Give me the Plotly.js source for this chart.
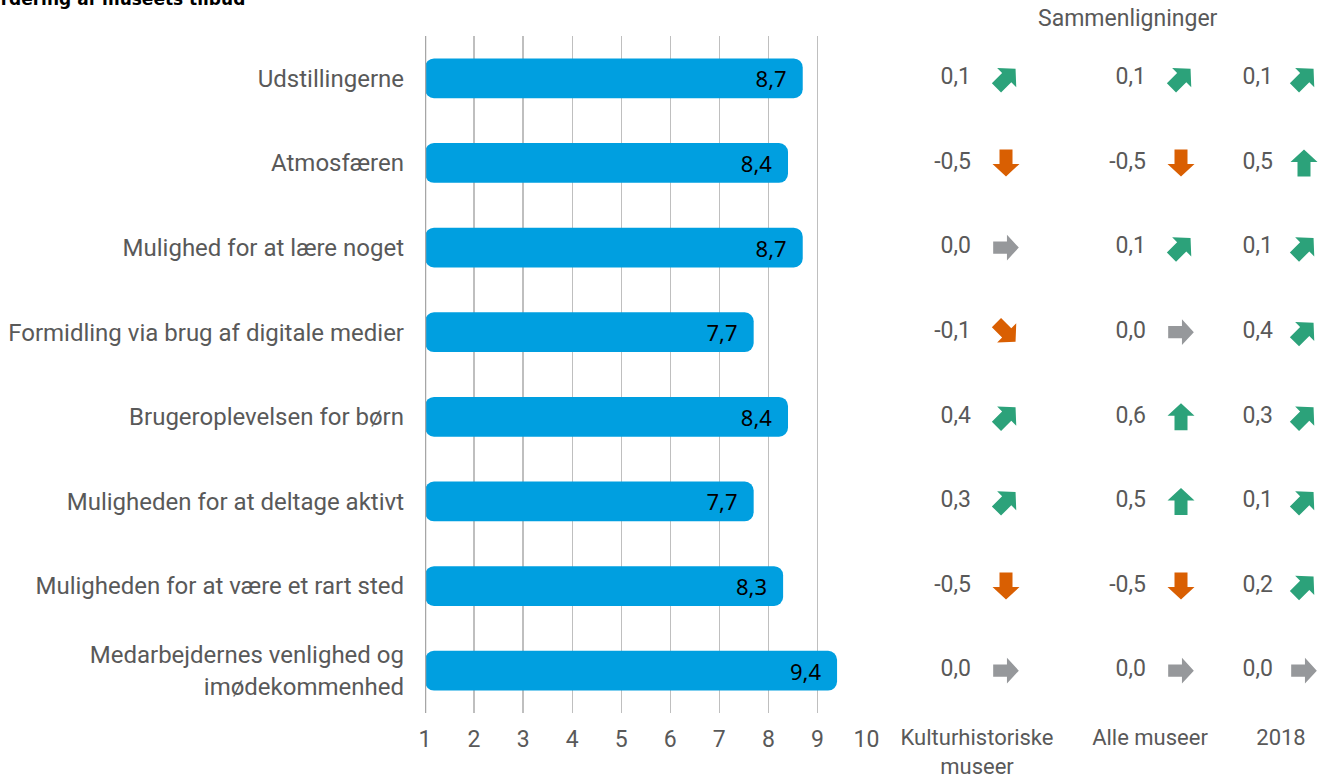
<!DOCTYPE html>
<html>
<head>
<meta charset="utf-8">
<script src="https://cdn.plot.ly/plotly-3.0.1.min.js"></script>
<style>html,body{margin:0;padding:0;background:#fff;}#chart{width:1335px;height:778px;}</style>
</head>
<body>
<div id="chart"></div>
<script>
const categories = [
  "Udstillingerne",
  "Atmosfæren",
  "Mulighed for at lære noget",
  "Formidling via brug af digitale medier",
  "Brugeroplevelsen for børn",
  "Muligheden for at deltage aktivt",
  "Muligheden for at være et rart sted",
  "Medarbejdernes venlighed og<br>imødekommenhed"
];
const scores = [8.7, 8.4, 8.7, 7.7, 8.4, 7.7, 8.3, 9.4];
const vsKulturhistoriske = [0.1, -0.5, 0.0, -0.1, 0.4, 0.3, -0.5, 0.0];
const vsAlleMuseer = [0.1, -0.5, 0.1, 0.0, 0.6, 0.5, -0.5, 0.0];
const vs2018 = [0.1, 0.5, 0.1, 0.4, 0.3, 0.1, 0.2, 0.0];
const compLabels = ["Kulturhistoriske<br>museer", "Alle museer", "2018"];
const xTicks = [1,2,3,4,5,6,7,8,9,10];

const fmt = v => v.toFixed(1).replace('.', ',');
const GREEN = '#2ca27a', ORANGE = '#d95f02', GREY = '#96989b';
// arrow direction on screen: [dx, dyUp]
function dirOf(v){
  const s = Math.SQRT1_2;
  if (v >= 0.45) return [0, 1];
  if (v > 0.05) return [s, s];
  if (v > -0.05) return [1, 0];
  if (v > -0.45) return [s, -s];
  return [0, -1];
}
function colorOf(v){ return v > 0.05 ? GREEN : (v < -0.05 ? ORANGE : GREY); }

// block-arrow glyph (pointing up, pixel units, y up, centred)
const ARROW_GLYPH = [[-6.5,-13.5],[6.5,-13.5],[6.5,1],[13.5,1],[0,13.5],[-13.5,1],[-6.5,1]];
function arrowPath(dx, dy, k){
  return ARROW_GLYPH.map(([x, y], i) => {
    const px = (x * dy + y * dx) * k;
    const py = (-x * dx + y * dy) * k;
    return (i ? 'L' : 'M') + px.toFixed(2) + ',' + py.toFixed(2);
  }).join('') + 'Z';
}

const FONT = 'Roboto, sans-serif';
const TXT = '#595959';
const traces = [{
  type: 'bar', orientation: 'h',
  y: categories, x: scores.map(s => s - 1), base: 1,
  marker: {color: '#009fe0', cornerradius: 9},
  width: 0.47,
  text: scores.map(v => fmt(v) + '&nbsp;&nbsp;'), textposition: 'inside', insidetextanchor: 'end',
  textfont: {family: '"Noto Sans", sans-serif', size: 22, color: '#000'},
  hoverinfo: 'skip', xaxis: 'x', yaxis: 'y'
}];

const cols = [
  {vals: vsKulturhistoriske, textX: 971, arrowX: 1006, label: 977},
  {vals: vsAlleMuseer, textX: 1146, arrowX: 1181, label: 1150},
  {vals: vs2018, textX: 1273, arrowX: 1304, label: 1281}
];
const arrowShapes = [];
cols.forEach(c => {
  traces.push({
    type: 'scatter', mode: 'text', x: c.vals.map(() => c.textX), y: categories,
    text: c.vals.map(fmt), textposition: 'middle left',
    textfont: {family: FONT, size: 23, color: TXT},
    xaxis: 'x2', yaxis: 'y', hoverinfo: 'skip', showlegend: false
  });
  c.vals.forEach((v, i) => {
    const [dx, dy] = dirOf(v);
    const horiz = dy === 0;
    arrowShapes.push({
      type: 'path', xref: 'x2', yref: 'y',
      xsizemode: 'pixel', ysizemode: 'pixel',
      xanchor: c.arrowX, yanchor: categories[i],
      path: arrowPath(dx, dy, horiz ? 0.95 : 1),
      fillcolor: colorOf(v), line: {width: 0}, layer: 'above'
    });
  });
});

const W = 1335, L = 425;
const pw = W - L;
const layout = {
  width: 1335, height: 778,
  margin: {l: L, r: 0, t: 36, b: 65},
  paper_bgcolor: '#fff', plot_bgcolor: 'rgba(0,0,0,0)',
  showlegend: false,
  font: {family: FONT, size: 24, color: TXT},
  xaxis: {
    domain: [0, (866.5 - L) / pw], range: [1, 10],
    tickvals: xTicks, ticktext: xTicks.map(String),
    showgrid: true, gridcolor: '#bfbfbf', gridwidth: 1.3,
    zeroline: false, showline: false, ticks: '',
    ticklabelstandoff: 10,
    tickfont: {family: FONT, size: 23, color: TXT},
    fixedrange: true
  },
  xaxis2: {
    domain: [(880 - L) / pw, 1], range: [880, 1335],
    tickvals: cols.map(c => c.label), ticktext: compLabels,
    showgrid: false, zeroline: false, showline: false, ticks: '',
    ticklabelstandoff: 9,
    tickfont: {family: FONT, size: 22, color: TXT},
    anchor: 'y', fixedrange: true
  },
  yaxis: {
    autorange: 'reversed', type: 'category',
    showgrid: false, zeroline: false, showline: false, ticks: '',
    ticklabelstandoff: 20,
    tickfont: {family: FONT, size: 24, color: TXT},
    fixedrange: true
  },
  shapes: [{
    type: 'line', xref: 'x', yref: 'paper', x0: 1, x1: 1, y0: 0, y1: 1,
    line: {color: '#a6a6a6', width: 2.5}
  }].concat(arrowShapes),
  annotations: [
    {text: 'Sammenligninger', xref: 'x2', yref: 'paper', x: 1128, y: 1, yshift: 2,
     xanchor: 'center', yanchor: 'bottom', showarrow: false,
     font: {family: FONT, size: 23, color: TXT}},
    {text: '<b>Vurdering af museets tilbud</b>', xref: 'paper', yref: 'paper',
     x: -L/pw - 26/pw, y: 1, yshift: 25, xanchor: 'left', yanchor: 'bottom', showarrow: false,
     font: {family: '"DejaVu Sans", sans-serif', size: 17, color: '#000'}}
  ]
};

Plotly.newPlot('chart', traces, layout, {displayModeBar: false, staticPlot: true});
</script>
</body>
</html>
